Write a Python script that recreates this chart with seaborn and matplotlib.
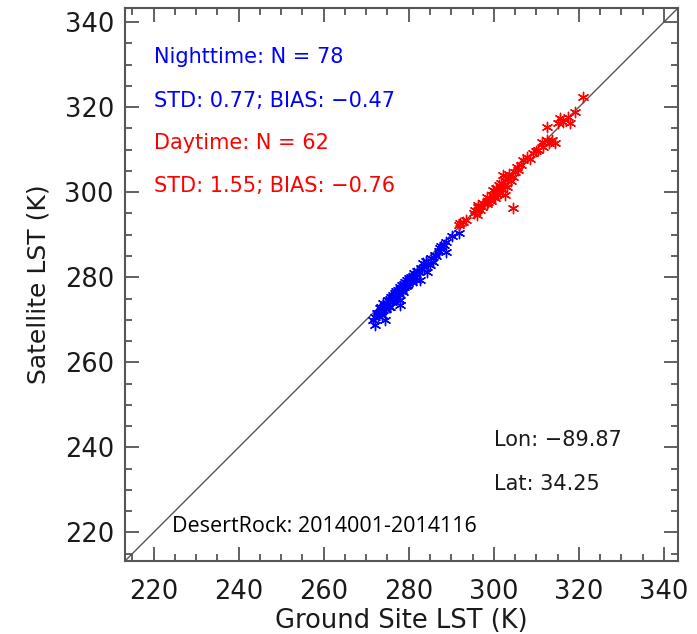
import matplotlib
matplotlib.use("Agg")
import matplotlib.pyplot as plt
import seaborn as sns
import pandas as pd
from matplotlib.ticker import MultipleLocator

# ---- data ----
night_ground = [271.7, 272.1, 272.0, 272.5, 272.8, 273.2, 273.0, 273.6, 273.4, 273.9,
                274.0, 274.4, 274.3, 274.6, 274.8, 275.0, 275.2, 275.4, 275.6, 275.7,
                275.9, 276.1, 276.2, 276.4, 276.5, 276.7, 276.9, 277.0, 277.2, 277.3,
                277.5, 277.6, 277.9, 277.9, 277.9, 278.1, 278.3, 278.4, 278.7, 278.8,
                279.0, 279.2, 279.3, 279.5, 279.7, 279.9, 280.0, 280.3, 280.5, 280.7,
                280.9, 281.1, 281.3, 281.5, 281.7, 281.9, 282.3, 282.6, 282.8, 283.1,
                283.4, 283.6, 284.0, 284.2, 284.5, 285.0, 285.3, 285.8, 286.1, 286.5,
                287.0, 287.3, 287.6, 288.3, 288.8, 288.8, 290.1, 291.7]
night_sat = [269.9, 268.8, 270.6, 271.5, 270.9, 272.7, 271.6, 271.1, 272.9, 272.2,
             273.9, 269.9, 273.0, 272.6, 274.0, 273.4, 274.6, 273.0, 273.1, 274.9,
             275.3, 274.2, 275.8, 275.4, 274.8, 276.3, 275.6, 276.7, 276.2, 275.4,
             277.1, 276.0, 277.8, 274.6, 273.5, 277.0, 278.1, 276.9, 276.6, 278.4,
             277.6, 278.9, 277.9, 278.2, 279.3, 278.6, 279.8, 279.4, 280.1, 278.9,
             280.4, 279.7, 281.0, 280.1, 279.3, 281.5, 281.3, 279.4, 282.1, 281.9,
             283.3, 282.4, 283.8, 281.3, 283.1, 282.9, 284.6, 283.6, 285.2, 284.9,
             286.1, 286.8, 287.3, 287.6, 286.0, 288.4, 289.6, 290.3]

day_ground = [291.7, 292.0, 292.8, 293.5, 295.3, 295.6, 296.0, 296.2, 296.4, 296.8,
              297.2, 297.5, 298.3, 298.5, 298.7, 299.0, 299.3, 299.5, 299.9, 300.1,
              300.3, 300.6, 300.8, 301.1, 301.3, 301.5, 301.8, 302.0, 302.2, 302.4,
              302.6, 302.6, 303.0, 303.3, 303.6, 304.0, 304.6, 304.6, 305.0, 305.4,
              305.8, 306.4, 306.9, 307.7, 308.5, 309.3, 310.0, 310.5, 311.3, 311.6,
              312.4, 312.4, 313.0, 313.6, 314.4, 315.2, 315.6, 316.3, 317.5, 317.9,
              319.1, 320.9]
day_sat = [292.3, 292.7, 293.1, 293.4, 295.0, 295.8, 294.6, 296.9, 296.6, 295.9,
           296.5, 297.4, 298.9, 297.2, 297.8, 298.4, 297.9, 299.3, 300.5, 299.0,
           298.6, 300.9, 299.5, 300.5, 301.7, 299.7, 302.1, 300.8, 304.0, 301.6,
           302.9, 299.3, 301.3, 303.0, 304.2, 302.6, 303.6, 296.2, 304.8, 306.0,
           305.2, 306.5, 307.6, 308.3, 307.8, 309.1, 309.6, 309.9, 311.9, 310.7,
           312.3, 315.4, 311.5, 312.3, 311.5, 316.2, 317.4, 316.6, 317.7, 316.2,
           318.9, 322.4]

x_ticks = [220, 240, 260, 280, 300, 320, 340]
y_ticks = [220, 240, 260, 280, 300, 320, 340]
axis_lim = (213.3, 343.3)

night = pd.DataFrame({"ground": night_ground, "sat": night_sat})
day = pd.DataFrame({"ground": day_ground, "sat": day_sat})

sns.set_style("ticks")
plt.rcParams["font.family"] = ["DejaVu Sans"]

W, H = 697, 634
fig = plt.figure(figsize=(W / 100, H / 100), dpi=100)
ax = fig.add_axes([125 / W, 1 - 561 / H, 553 / W, 553 / H])

star = (6, 2, 0)
sns.scatterplot(data=night, x="ground", y="sat", marker=star, color="#0000ff",
                edgecolor="#0000ff", s=55, linewidth=1.0, ax=ax, legend=False, zorder=3)
sns.scatterplot(data=day, x="ground", y="sat", marker=star, color="#ff0000",
                edgecolor="#ff0000", s=55, linewidth=1.0, ax=ax, legend=False, zorder=3)

ax.axline((axis_lim[0], axis_lim[0]), slope=1, color="#555555", lw=1.0, zorder=2)

ax.set_xlim(*axis_lim)
ax.set_ylim(*axis_lim)
ax.set_xticks(x_ticks)
ax.set_yticks(y_ticks)
ax.xaxis.set_minor_locator(MultipleLocator(5))
ax.yaxis.set_minor_locator(MultipleLocator(5))
ax.tick_params(which="both", direction="in", top=True, right=True,
               color="#555555", width=1.3)
ax.tick_params(which="major", length=10, labelsize=18.5, pad=8, labelcolor="#1a1a1a")
ax.tick_params(which="minor", length=5)
ax.tick_params(axis="x", which="major", pad=13)
for sp in ax.spines.values():
    sp.set_color("#555555")
    sp.set_linewidth(1.5)

ax.set_xlabel("Ground Site LST (K)", fontsize=18.5, color="#1a1a1a", labelpad=2)
ax.set_ylabel("Satellite LST (K)", fontsize=18, color="#1a1a1a", labelpad=10)

def ftext(px, py, s, **kw):
    fig.text(px / W, 1 - py / H, s, va="center", ha="left", **kw)

fs = 15
ftext(154, 57, "Nighttime: N = 78", color="#0000ff", fontsize=fs)
ftext(154, 101, "STD: 0.77; BIAS: \u22120.47", color="#0000ff", fontsize=fs)
ftext(154, 143, "Daytime: N = 62", color="#ff0000", fontsize=fs)
ftext(154, 186, "STD: 1.55; BIAS: \u22120.76", color="#ff0000", fontsize=fs)
ftext(494, 440, "Lon: \u221289.87", color="#1a1a1a", fontsize=fs)
ftext(494, 484, "Lat: 34.25", color="#1a1a1a", fontsize=fs)
ftext(172, 527, "DesertRock: 2014001-2014116", color="black", fontsize=15.5,
      family=["Open Sans", "DejaVu Sans"])

fig.savefig("out.png", dpi=100, facecolor="white")
